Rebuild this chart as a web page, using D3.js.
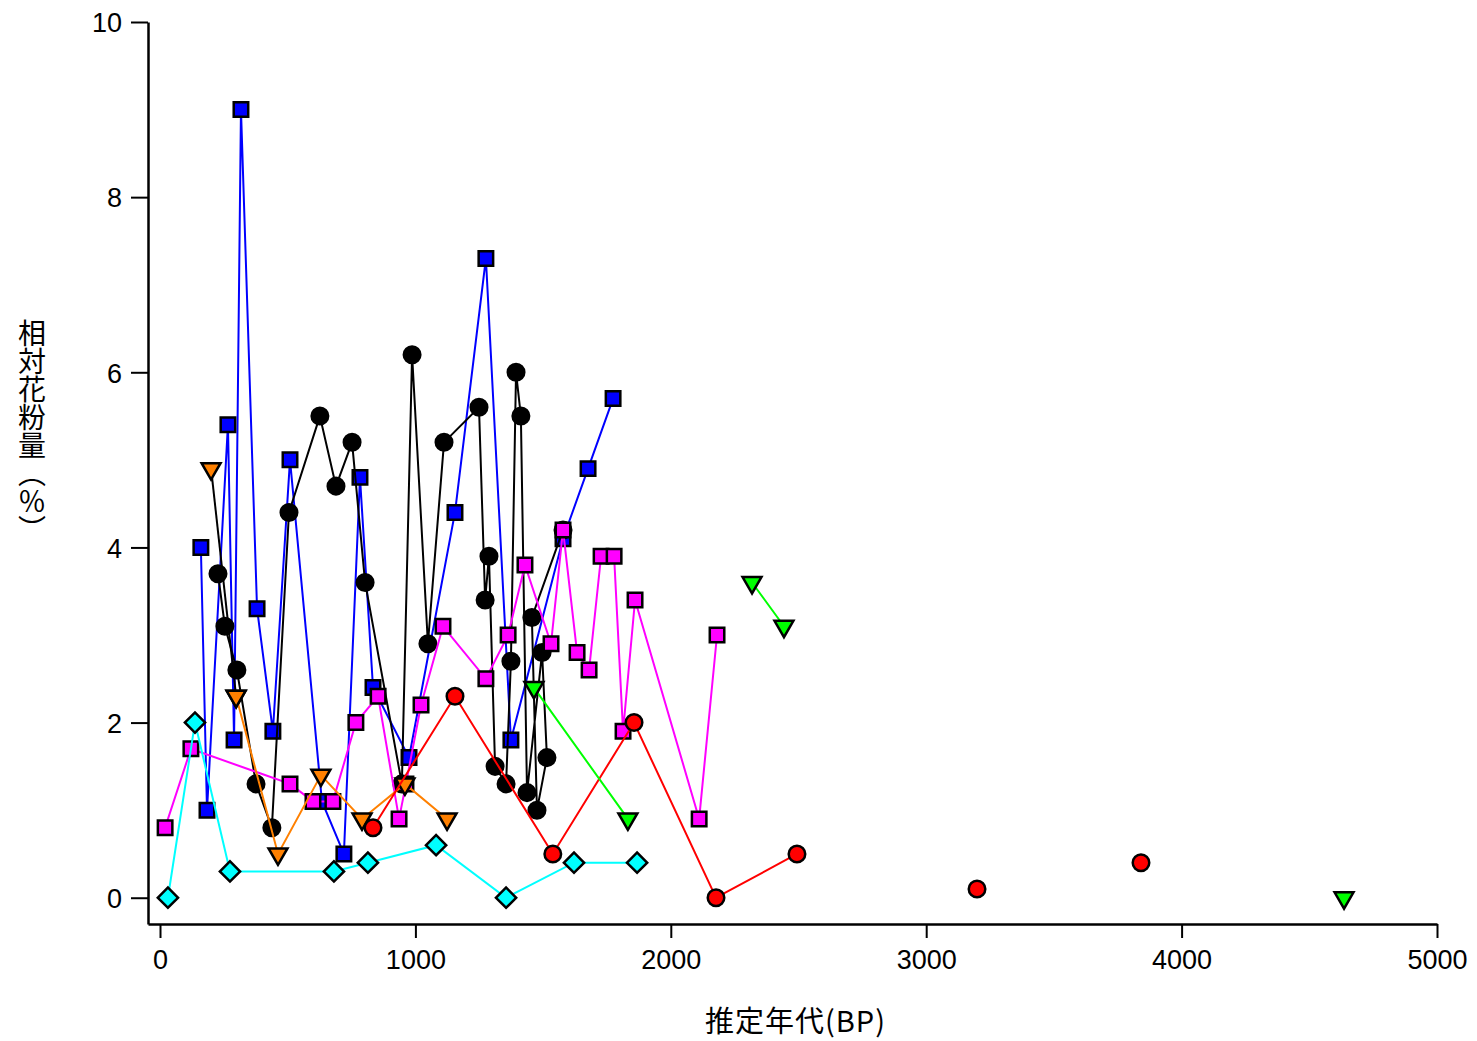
<!DOCTYPE html>
<html>
<head>
<meta charset="utf-8">
<script src="https://cdn.jsdelivr.net/npm/d3@7"></script>
<style>
  body { margin: 0; background: #fff; }
  svg text { font-family: "Liberation Sans", Arial, sans-serif; }
  .cjk { font-family: "Noto Sans CJK JP", sans-serif; }
</style>
</head>
<body>
<svg id="chart" width="1477" height="1041"></svg>
<script>
// ---- data (age BP, relative pollen %) ; null = gap in the line ----
const blueAge = [160, 184, 266, 290, 317, 380, 442, 509, 634, 720, 783, 834, 975, 1155, 1276, 1374, 1578, 1676, 1774];
const blueVal = [4.0, 1.0, 5.4, 1.8, 9.0, 3.3, 1.9, 5.0, 1.1, 0.5, 4.8, 2.4, 1.6, 4.4, 7.3, 1.8, 4.1, 4.9, 5.7];

// black series, in plotted (core) order
const blackAge = [227, 254, 301, 376, 438, 505, 626, 689, 752, 803, 947, 987, 1049, 1112, 1249, 1273, 1288, 1312, 1355, 1374, 1394, 1413, 1437, 1496, 1515, 1476, 1456, 1578];
const blackVal = [3.7, 3.1, 2.6, 1.3, 0.8, 4.4, 5.5, 4.7, 5.2, 3.6, 1.3, 6.2, 2.9, 5.2, 5.6, 3.4, 3.9, 1.5, 1.3, 2.7, 6.0, 5.5, 1.2, 2.8, 1.6, 1.0, 3.2, 4.2];

const magentaAge = [20, 121, 509, 599, 677, 767, 854, 936, 963, 1022, 1108, 1276, 1363, 1429, 1531, 1578, 1633, 1680, 1727, 1778, 1813, 1860, 2111, 2181];
const magentaVal = [0.8, 1.7, 1.3, 1.1, 1.1, 2.0, 2.3, 0.9, 1.3, 2.2, 3.1, 2.5, 3.0, 3.8, 2.9, 4.2, 2.8, 2.6, 3.9, 3.9, 1.9, 3.4, 0.9, 3.0];

// orange triangles: upper pair joined by a black line, the rest by an orange line
const orangeTopAge = [200, 298];
const orangeTopVal = [4.9, 2.3];
const orangeAge = [298, 462, 630, 791, 959, 1124];
const orangeVal = [2.3, 0.5, 1.4, 0.9, 1.3, 0.9];

const redAge = [834, 1155, 1538, 1856, 2177, 2494, null, 3199, null, 3841];
const redVal = [0.8, 2.3, 0.5, 2.0, 0.0, 0.5, null, 0.1, null, 0.4];

const greenAge = [1464, 1832, null, 2318, 2443, null, 4636];
const greenVal = [2.4, 0.9, null, 3.6, 3.1, null, 0.0];

const cyanAge = [31, 137, 274, 681, 814, 1081, 1355, 1621, 1868];
const cyanVal = [0.0, 2.0, 0.3, 0.3, 0.4, 0.6, 0.0, 0.4, 0.4];

const xTicks = [0, 1000, 2000, 3000, 4000, 5000];
const yTicks = [0, 2, 4, 6, 8, 10];
const xTitle = "推定年代(BP)";
const yTitle = "相対花粉量（％）";

// ---- layout ----
const svg = d3.select("#chart");
const W = 1477, H = 1041;
const margin = { left: 148, right: 40, top: 22, bottom: 117 };

const x = d3.scaleLinear().domain([-47, 5000]).range([margin.left, W - margin.right]);
const y = d3.scaleLinear().domain([-0.3, 10]).range([H - margin.bottom, margin.top]);

function zip(ages, vals) {
  return ages.map((a, i) => ({ x: a, y: vals[i] }));
}

// drawn in this order (later ones on top)
const series = [
  { name: "blue",      data: zip(blueAge, blueVal),           line: "#0000ff", fill: "#0000ff", marker: "square" },
  { name: "black",     data: zip(blackAge, blackVal),         line: "#000000", fill: "#000000", marker: "circle" },
  { name: "magenta",   data: zip(magentaAge, magentaVal),     line: "#ff00ff", fill: "#ff00ff", marker: "square" },
  { name: "orangeTop", data: zip(orangeTopAge, orangeTopVal), line: "#000000", fill: "#ff8000", marker: "triangle" },
  { name: "orange",    data: zip(orangeAge, orangeVal),       line: "#ff8000", fill: "#ff8000", marker: "triangle" },
  { name: "red",       data: zip(redAge, redVal),             line: "#ff0000", fill: "#ff0000", marker: "circle" },
  { name: "green",     data: zip(greenAge, greenVal),         line: "#00ff00", fill: "#00ff00", marker: "triangle" },
  { name: "cyan",      data: zip(cyanAge, cyanVal),           line: "#00ffff", fill: "#00ffff", marker: "diamond" }
];

const symbols = {
  square:   { type: d3.symbolSquare,   size: 210, rot: 0 },
  circle:   { type: d3.symbolCircle,   size: 215, rot: 0 },
  triangle: { type: d3.symbolTriangle, size: 155, rot: 180 },
  diamond:  { type: d3.symbolSquare,   size: 205, rot: 45 }
};

// axes
const xAxis = svg.append("g")
  .attr("transform", `translate(0,${H - margin.bottom})`)
  .call(d3.axisBottom(x).tickValues(xTicks).tickFormat(d3.format("d")).tickSize(14).tickSizeOuter(0).tickPadding(12));

const yAxis = svg.append("g")
  .attr("transform", `translate(${margin.left},0)`)
  .call(d3.axisLeft(y).tickValues(yTicks).tickSize(17).tickSizeOuter(0).tickPadding(9));

[xAxis, yAxis].forEach(a => {
  a.select(".domain").attr("stroke", "#000").attr("stroke-width", 2.5);
  a.selectAll(".tick line").attr("stroke", "#000").attr("stroke-width", 2);
  a.selectAll(".tick text").attr("fill", "#000").style("font-size", "27px")
    .style("font-family", "'Liberation Sans', Arial, sans-serif");
});
yAxis.selectAll(".tick text").attr("dy", "0.36em");

// series
const line = d3.line()
  .defined(d => d.y !== null)
  .x(d => x(d.x))
  .y(d => y(d.y));

series.forEach(s => {
  const g = svg.append("g").attr("class", "series-" + s.name);

  g.append("path")
    .datum(s.data)
    .attr("fill", "none")
    .attr("stroke", s.line)
    .attr("stroke-width", 2)
    .attr("d", line);

  const sym = symbols[s.marker];
  g.selectAll("path.pt")
    .data(s.data.filter(d => d.y !== null))
    .join("path")
    .attr("class", "pt")
    .attr("transform", d => `translate(${x(d.x)},${y(d.y)}) rotate(${sym.rot})`)
    .attr("d", d3.symbol().type(sym.type).size(sym.size))
    .attr("fill", s.fill)
    .attr("stroke", "#000")
    .attr("stroke-width", 2.5);
});

// titles
svg.append("text")
  .attr("class", "cjk")
  .attr("x", (margin.left + W - margin.right) / 2 + 3)
  .attr("y", 1032)
  .attr("text-anchor", "middle")
  .style("font-size", "29px")
  .style("letter-spacing", "1px")
  .text(xTitle);

svg.append("text")
  .attr("class", "cjk")
  .attr("x", 32)
  .attr("y", 319)
  .style("writing-mode", "vertical-rl")
  .style("font-size", "28px")
  .text(yTitle);
</script>
</body>
</html>
